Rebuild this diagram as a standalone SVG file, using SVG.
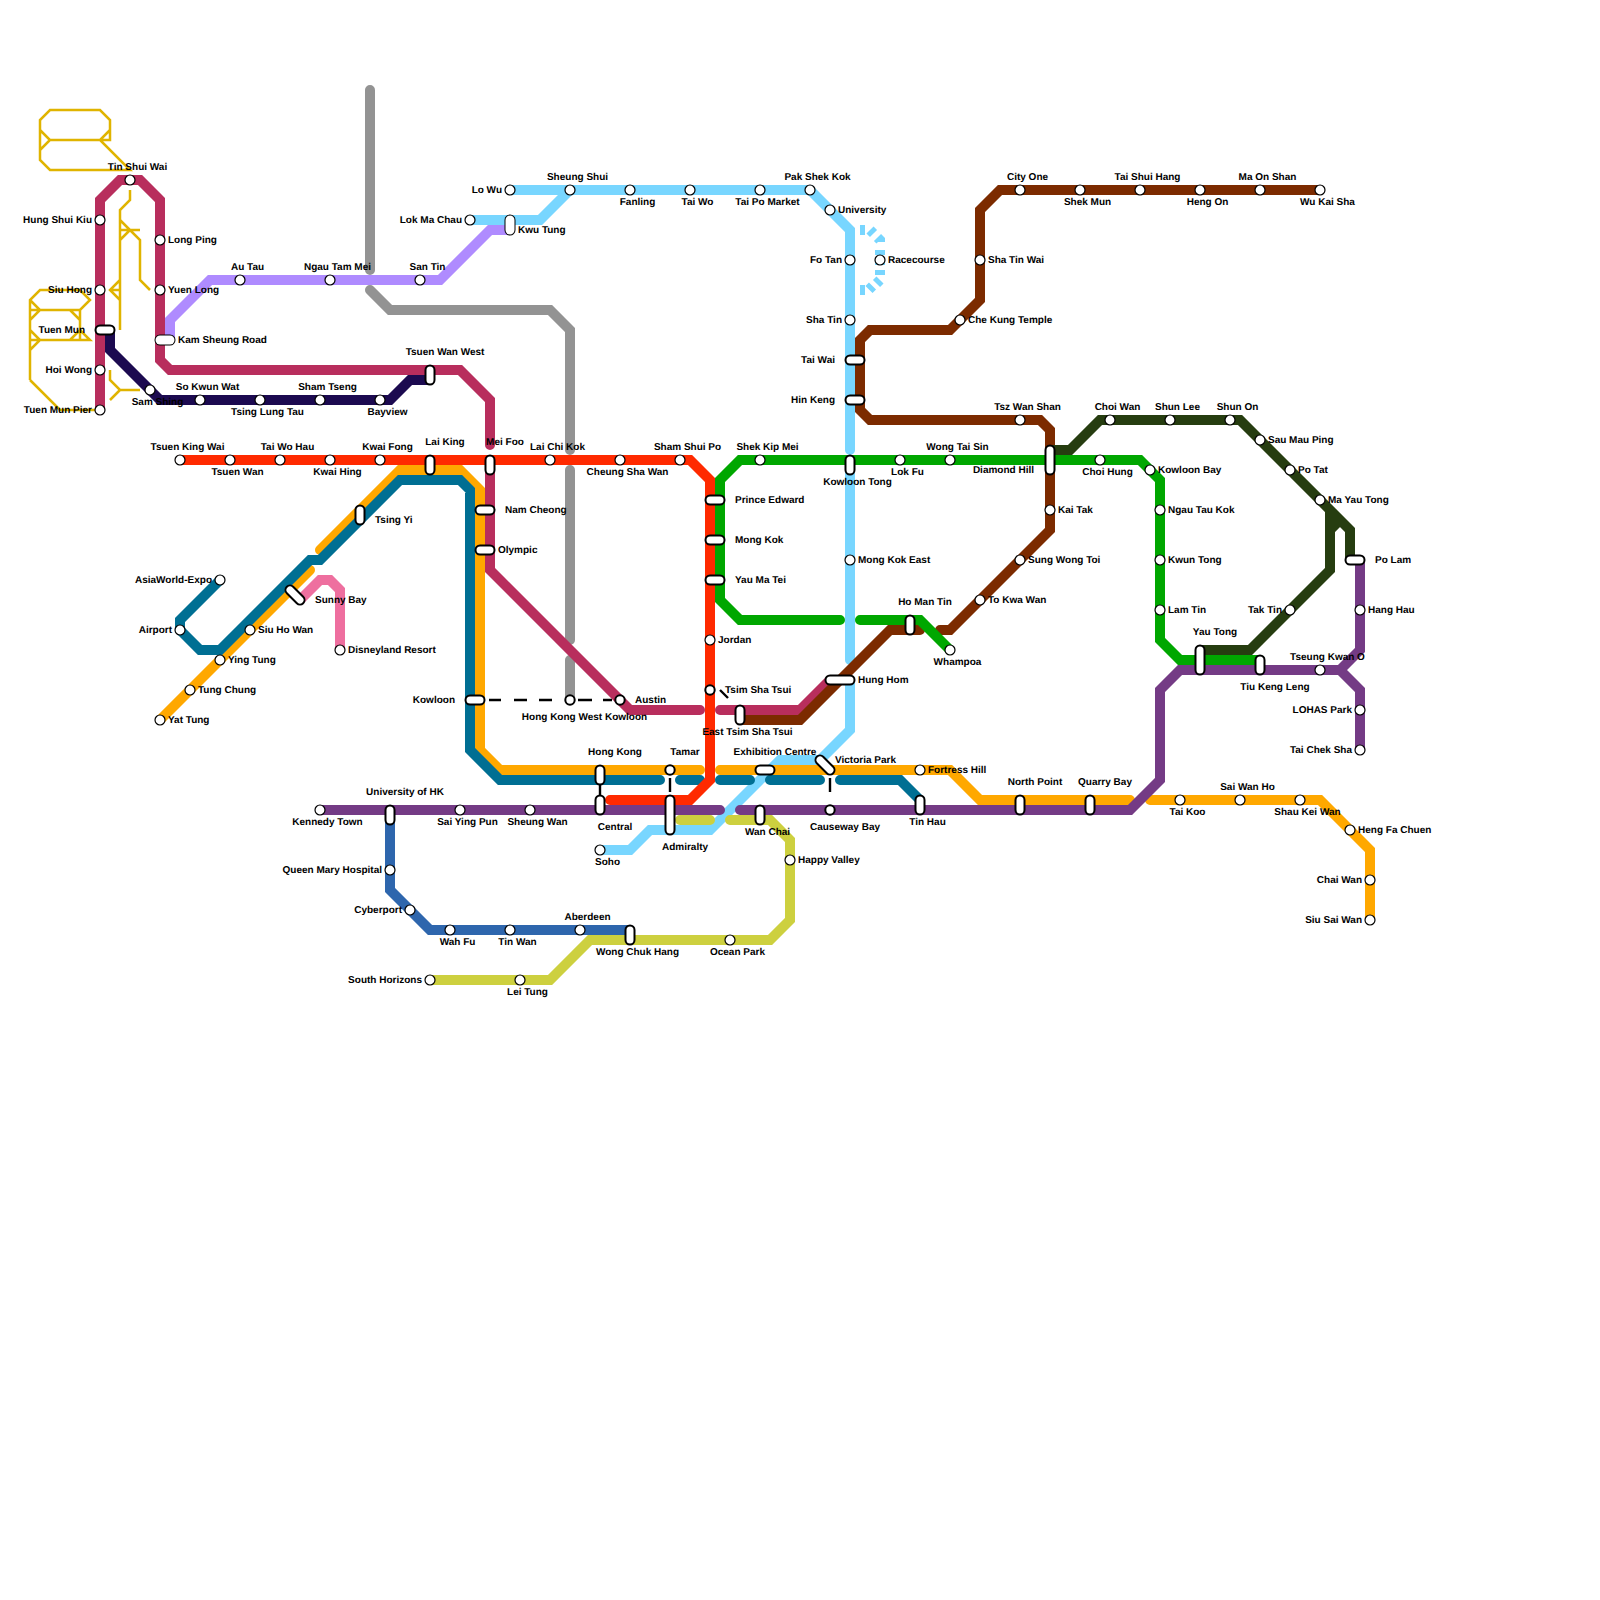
<svg xmlns="http://www.w3.org/2000/svg" width="1600" height="1600" viewBox="0 0 1600 1600">
<style>
.ln{fill:none;stroke-width:10;stroke-linecap:round;stroke-linejoin:miter}
.db{fill:none;stroke:#78D6FF;stroke-width:10;stroke-linecap:butt}
.y{fill:none;stroke:#E0B400;stroke-width:2.5}
.red{stroke:#FF2A00}.mag{stroke:#B82E5D}.org{stroke:#FFA800}.tea{stroke:#006F93}.nav{stroke:#1C0A50}.lil{stroke:#AF8BFF}.gry{stroke:#939393}.sky{stroke:#78D6FF}.brn{stroke:#7C2B00}.grn{stroke:#00A700}.dgr{stroke:#263D10}.pur{stroke:#743B85}.pnk{stroke:#EE6F9F}.blu{stroke:#2E66AD}.olv{stroke:#CDD03F}
.lk{fill:none;stroke:#000;stroke-width:2.4}
.st{fill:#fff;stroke:#000;stroke-width:1.2}
.sx{fill:#fff;stroke:#000;stroke-width:2}
.co{fill:none;stroke:#000;stroke-width:11;stroke-linecap:round}
.ci{fill:none;stroke:#fff;stroke-width:7;stroke-linecap:round}
.ct{fill:none;stroke:#fff;stroke-width:9;stroke-linecap:round}
text{font-family:"Liberation Sans",Arial,sans-serif;font-size:10px;font-weight:bold;fill:#000;text-rendering:geometricPrecision}
.l{text-anchor:end}.r{text-anchor:start}.m{text-anchor:middle}
</style>
<g id="connectors">
<g id="yellow-lines">
<path class="y" d="M100 140H50M40 130L50 140L40 150M110 130L100 140L130 170H50L40 160V120L50 110H100L110 120V140H100"/>
<path class="y" d="M130 190V200L120 210V330M120 220L140 240V280L150 290M120 230H140M120 240L130 230M120 280L110 290L120 300M110 290H120"/>
<path class="y" d="M30 380V300L40 290H80L90 300L80 310H30M30 300L40 310L30 320M70 310L80 320M80 310V340M30 340H90L80 330L70 340M30 330L40 340L30 350M30 380L60 410H100"/>
<path class="y" d="M110 370V380L120 390H140M120 390L110 400"/>
</g>
<path class="ln gry" d="M370 90V270M370 290L390 310H550L570 330V450M570 470V640M570 660V700"/>
<path class="ln sky" d="M470 220H540L570 190M510 190H810L850 230V450M850 470V660M850 680V730L820 760H780L710 830H650L630 850H600"/>
<path class="db" d="M860 230H865M870 230L873.5 233.5M877.5 237.5L880 240V242M880 250V255M880 260V265M880 270V275M880 280L876.5 283.5M872.5 286L869 289.5M860 290H865"/>
<path class="ln lil" d="M170 340V320L210 280H440L490 230H510"/>
<path class="ln mag" d="M100 410V200L120 180H140L160 200V360L170 370H460L490 400V445M490 470V570L630 710H700M720 710H800L828 682"/>
<path class="ln org" d="M160 720L310 570M320 550L400 470H460L480 490V750L500 770H700M720 770H950L980 800H1130M1150 800H1320L1370 850V920"/>
<path class="ln tea" d="M220 580L180 620V630L200 650H220L310 560H320L400 480H460L470 490V750L500 780H660M680 780H700M720 780H750M770 780H820M840 780H900L920 800"/>
<path class="ln pnk" d="M300 600L320 580H330L340 590V650"/>
<path class="ln nav" d="M110 330V350L160 400H390L410 380H430"/>
<path class="ln red" d="M180 460H690L710 480V780L690 800H610"/>
<path class="ln brn" d="M1320 190H1000L980 210V300L950 330H870L860 340V410L870 420H1040L1050 430V530L950 630H940M920 630H890L800 720H740"/>
<path class="ln dgr" d="M1050 450H1070L1100 420H1240L1350 530V560M1200 650H1250L1330 570V530L1340 520M1320 500L1330 510V540"/>
<path class="ln grn" d="M840 620H740L720 600V480L740 460H1140L1160 480V640L1180 660H1260M860 620H920L950 650"/>
<path class="ln pur" d="M320 810H720M740 810H1130L1160 780V690L1180 670H1340L1360 650V560M1340 670L1360 690V750"/>
<path class="ln blu" d="M390 810V890L430 930H630"/>
<path class="ln olv" d="M430 980H550L590 940H770L790 920V840L770 820H730M710 820H680"/>
<path class="lk" d="M489 700H501M514 700H527M539 700H552M578 700H592M603 700H612M600 785V795M670 778V792M830 778V792M720 690L728 698"/>
</g>
<g id="nodes">
<g id="tin-shui-wai"><circle class="st" cx="130" cy="180" r="5"/><text class="m" x="137.5" y="170">Tin Shui Wai</text></g>
<g id="hung-shui-kiu"><circle class="st" cx="100" cy="220" r="5"/><text class="l" x="92" y="223">Hung Shui Kiu</text></g>
<g id="long-ping"><circle class="st" cx="160" cy="240" r="5"/><text class="r" x="168" y="243">Long Ping</text></g>
<g id="siu-hong"><circle class="st" cx="100" cy="290" r="5"/><text class="l" x="92" y="293">Siu Hong</text></g>
<g id="yuen-long"><circle class="st" cx="160" cy="290" r="5"/><text class="r" x="168" y="293">Yuen Long</text></g>
<g id="tuen-mun"><path class="co" d="M100 330H110"/><path class="ci" d="M100 330H110"/><text class="l" x="85" y="333">Tuen Mun</text></g>
<g id="kam-sheung-road"><path class="co" d="M160 340H170"/><path class="ct" d="M160 340H170"/><text class="r" x="178" y="343">Kam Sheung Road</text></g>
<g id="hoi-wong"><circle class="st" cx="100" cy="370" r="5"/><text class="l" x="92" y="373">Hoi Wong</text></g>
<g id="tuen-mun-pier"><circle class="st" cx="100" cy="410" r="5"/><text class="l" x="92" y="413">Tuen Mun Pier</text></g>
<g id="sam-shing"><circle class="st" cx="150" cy="390" r="5"/><text class="m" x="157.5" y="405">Sam Shing</text></g>
<g id="so-kwun-wat"><circle class="st" cx="200" cy="400" r="5"/><text class="m" x="207.5" y="390">So Kwun Wat</text></g>
<g id="tsing-lung-tau"><circle class="st" cx="260" cy="400" r="5"/><text class="m" x="267.5" y="415">Tsing Lung Tau</text></g>
<g id="sham-tseng"><circle class="st" cx="320" cy="400" r="5"/><text class="m" x="327.5" y="390">Sham Tseng</text></g>
<g id="bayview"><circle class="st" cx="380" cy="400" r="5"/><text class="m" x="387.5" y="415">Bayview</text></g>
<g id="au-tau"><circle class="st" cx="240" cy="280" r="5"/><text class="m" x="247.5" y="270">Au Tau</text></g>
<g id="ngau-tam-mei"><circle class="st" cx="330" cy="280" r="5"/><text class="m" x="337.5" y="270">Ngau Tam Mei</text></g>
<g id="san-tin"><circle class="st" cx="420" cy="280" r="5"/><text class="m" x="427.5" y="270">San Tin</text></g>
<g id="tsuen-wan-west"><path class="co" d="M430 370V380"/><path class="ci" d="M430 370V380"/><text class="m" x="445" y="355">Tsuen Wan West</text></g>
<g id="tsuen-king-wai"><circle class="st" cx="180" cy="460" r="5"/><text class="m" x="187.5" y="450">Tsuen King Wai</text></g>
<g id="tsuen-wan"><circle class="st" cx="230" cy="460" r="5"/><text class="m" x="237.5" y="475">Tsuen Wan</text></g>
<g id="tai-wo-hau"><circle class="st" cx="280" cy="460" r="5"/><text class="m" x="287.5" y="450">Tai Wo Hau</text></g>
<g id="kwai-hing"><circle class="st" cx="330" cy="460" r="5"/><text class="m" x="337.5" y="475">Kwai Hing</text></g>
<g id="kwai-fong"><circle class="st" cx="380" cy="460" r="5"/><text class="m" x="387.5" y="450">Kwai Fong</text></g>
<g id="lai-king"><path class="co" d="M430 460V470"/><path class="ci" d="M430 460V470"/><text class="m" x="445" y="445">Lai King</text></g>
<g id="mei-foo"><path class="co" d="M490 460V470"/><path class="ci" d="M490 460V470"/><text class="m" x="505" y="445">Mei Foo</text></g>
<g id="lai-chi-kok"><circle class="st" cx="550" cy="460" r="5"/><text class="m" x="557.5" y="450">Lai Chi Kok</text></g>
<g id="cheung-sha-wan"><circle class="st" cx="620" cy="460" r="5"/><text class="m" x="627.5" y="475">Cheung Sha Wan</text></g>
<g id="sham-shui-po"><circle class="st" cx="680" cy="460" r="5"/><text class="m" x="687.5" y="450">Sham Shui Po</text></g>
<g id="shek-kip-mei"><circle class="st" cx="760" cy="460" r="5"/><text class="m" x="767.5" y="450">Shek Kip Mei</text></g>
<g id="kowloon-tong"><path class="co" d="M850 460V470"/><path class="ci" d="M850 460V470"/><text class="m" x="857.5" y="485">Kowloon Tong</text></g>
<g id="lok-fu"><circle class="st" cx="900" cy="460" r="5"/><text class="m" x="907.5" y="475">Lok Fu</text></g>
<g id="wong-tai-sin"><circle class="st" cx="950" cy="460" r="5"/><text class="m" x="957.5" y="450">Wong Tai Sin</text></g>
<g id="diamond-hill"><path class="co" d="M1050 450V470"/><path class="ci" d="M1050 450V470"/><text class="l" x="1034" y="473">Diamond Hill</text></g>
<g id="choi-hung"><circle class="st" cx="1100" cy="460" r="5"/><text class="m" x="1107.5" y="475">Choi Hung</text></g>
<g id="kowloon-bay"><circle class="st" cx="1150" cy="470" r="5"/><text class="r" x="1158" y="473">Kowloon Bay</text></g>
<g id="ngau-tau-kok"><circle class="st" cx="1160" cy="510" r="5"/><text class="r" x="1168" y="513">Ngau Tau Kok</text></g>
<g id="kwun-tong"><circle class="st" cx="1160" cy="560" r="5"/><text class="r" x="1168" y="563">Kwun Tong</text></g>
<g id="lam-tin"><circle class="st" cx="1160" cy="610" r="5"/><text class="r" x="1168" y="613">Lam Tin</text></g>
<g id="kai-tak"><circle class="st" cx="1050" cy="510" r="5"/><text class="r" x="1058" y="513">Kai Tak</text></g>
<g id="sung-wong-toi"><circle class="st" cx="1020" cy="560" r="5"/><text class="r" x="1028" y="563">Sung Wong Toi</text></g>
<g id="to-kwa-wan"><circle class="st" cx="980" cy="600" r="5"/><text class="r" x="988" y="603">To Kwa Wan</text></g>
<g id="whampoa"><circle class="st" cx="950" cy="650" r="5"/><text class="m" x="957.5" y="665">Whampoa</text></g>
<g id="ho-man-tin"><path class="co" d="M910 620V630"/><path class="ci" d="M910 620V630"/><text class="m" x="925" y="605">Ho Man Tin</text></g>
<g id="tsz-wan-shan"><circle class="st" cx="1020" cy="420" r="5"/><text class="m" x="1027.5" y="410">Tsz Wan Shan</text></g>
<g id="choi-wan"><circle class="st" cx="1110" cy="420" r="5"/><text class="m" x="1117.5" y="410">Choi Wan</text></g>
<g id="shun-lee"><circle class="st" cx="1170" cy="420" r="5"/><text class="m" x="1177.5" y="410">Shun Lee</text></g>
<g id="shun-on"><circle class="st" cx="1230" cy="420" r="5"/><text class="m" x="1237.5" y="410">Shun On</text></g>
<g id="sau-mau-ping"><circle class="st" cx="1260" cy="440" r="5"/><text class="r" x="1268" y="443">Sau Mau Ping</text></g>
<g id="po-tat"><circle class="st" cx="1290" cy="470" r="5"/><text class="r" x="1298" y="473">Po Tat</text></g>
<g id="ma-yau-tong"><circle class="st" cx="1320" cy="500" r="5"/><text class="r" x="1328" y="503">Ma Yau Tong</text></g>
<g id="po-lam"><path class="co" d="M1350 560H1360"/><path class="ci" d="M1350 560H1360"/><text class="r" x="1375" y="563">Po Lam</text></g>
<g id="hang-hau"><circle class="st" cx="1360" cy="610" r="5"/><text class="r" x="1368" y="613">Hang Hau</text></g>
<g id="tak-tin"><circle class="st" cx="1290" cy="610" r="5"/><text class="l" x="1282" y="613">Tak Tin</text></g>
<g id="yau-tong"><path class="co" d="M1200 650V670"/><path class="ci" d="M1200 650V670"/><text class="m" x="1215" y="635">Yau Tong</text></g>
<g id="tiu-keng-leng"><path class="co" d="M1260 660V670"/><path class="ci" d="M1260 660V670"/><text class="m" x="1275" y="690">Tiu Keng Leng</text></g>
<g id="tseung-kwan-o"><circle class="st" cx="1320" cy="670" r="5"/><text class="m" x="1327.5" y="660">Tseung Kwan O</text></g>
<g id="lohas-park"><circle class="st" cx="1360" cy="710" r="5"/><text class="l" x="1352" y="713">LOHAS Park</text></g>
<g id="tai-chek-sha"><circle class="st" cx="1360" cy="750" r="5"/><text class="l" x="1352" y="753">Tai Chek Sha</text></g>
<g id="tai-koo"><circle class="st" cx="1180" cy="800" r="5"/><text class="m" x="1187.5" y="815">Tai Koo</text></g>
<g id="sai-wan-ho"><circle class="st" cx="1240" cy="800" r="5"/><text class="m" x="1247.5" y="790">Sai Wan Ho</text></g>
<g id="shau-kei-wan"><circle class="st" cx="1300" cy="800" r="5"/><text class="m" x="1307.5" y="815">Shau Kei Wan</text></g>
<g id="quarry-bay"><path class="co" d="M1090 800V810"/><path class="ci" d="M1090 800V810"/><text class="m" x="1105" y="785">Quarry Bay</text></g>
<g id="north-point"><path class="co" d="M1020 800V810"/><path class="ci" d="M1020 800V810"/><text class="m" x="1035" y="785">North Point</text></g>
<g id="heng-fa-chuen"><circle class="st" cx="1350" cy="830" r="5"/><text class="r" x="1358" y="833">Heng Fa Chuen</text></g>
<g id="chai-wan"><circle class="st" cx="1370" cy="880" r="5"/><text class="l" x="1362" y="883">Chai Wan</text></g>
<g id="siu-sai-wan"><circle class="st" cx="1370" cy="920" r="5"/><text class="l" x="1362" y="923">Siu Sai Wan</text></g>
<g id="nam-cheong"><path class="co" d="M480 510H490"/><path class="ci" d="M480 510H490"/><text class="r" x="505" y="513">Nam Cheong</text></g>
<g id="olympic"><path class="co" d="M480 550H490"/><path class="ci" d="M480 550H490"/><text class="r" x="498" y="553">Olympic</text></g>
<g id="tsing-yi"><path class="co" d="M360 510V520"/><path class="ci" d="M360 510V520"/><text class="r" x="375" y="523">Tsing Yi</text></g>
<g id="sunny-bay"><path class="co" d="M290 590L300 600"/><path class="ci" d="M290 590L300 600"/><text class="r" x="315" y="603">Sunny Bay</text></g>
<g id="siu-ho-wan"><circle class="st" cx="250" cy="630" r="5"/><text class="r" x="258" y="633">Siu Ho Wan</text></g>
<g id="disneyland-resort"><circle class="st" cx="340" cy="650" r="5"/><text class="r" x="348" y="653">Disneyland Resort</text></g>
<g id="ying-tung"><circle class="st" cx="220" cy="660" r="5"/><text class="r" x="228" y="663">Ying Tung</text></g>
<g id="tung-chung"><circle class="st" cx="190" cy="690" r="5"/><text class="r" x="198" y="693">Tung Chung</text></g>
<g id="yat-tung"><circle class="st" cx="160" cy="720" r="5"/><text class="r" x="168" y="723">Yat Tung</text></g>
<g id="asiaworld-expo"><circle class="st" cx="220" cy="580" r="5"/><text class="l" x="212" y="583">AsiaWorld-Expo</text></g>
<g id="airport"><circle class="st" cx="180" cy="630" r="5"/><text class="l" x="172" y="633">Airport</text></g>
<g id="kowloon"><path class="co" d="M470 700H480"/><path class="ci" d="M470 700H480"/><text class="l" x="455" y="703">Kowloon</text></g>
<g id="university-of-hk"><path class="co" d="M390 810V820"/><path class="ci" d="M390 810V820"/><text class="m" x="405" y="795">University of HK</text></g>
<g id="kennedy-town"><circle class="st" cx="320" cy="810" r="5"/><text class="m" x="327.5" y="825">Kennedy Town</text></g>
<g id="sai-ying-pun"><circle class="st" cx="460" cy="810" r="5"/><text class="m" x="467.5" y="825">Sai Ying Pun</text></g>
<g id="sheung-wan"><circle class="st" cx="530" cy="810" r="5"/><text class="m" x="537.5" y="825">Sheung Wan</text></g>
<g id="prince-edward"><path class="co" d="M710 500H720"/><path class="ci" d="M710 500H720"/><text class="r" x="735" y="503">Prince Edward</text></g>
<g id="mong-kok"><path class="co" d="M710 540H720"/><path class="ci" d="M710 540H720"/><text class="r" x="735" y="543">Mong Kok</text></g>
<g id="yau-ma-tei"><path class="co" d="M710 580H720"/><path class="ci" d="M710 580H720"/><text class="r" x="735" y="583">Yau Ma Tei</text></g>
<g id="jordan"><circle class="st" cx="710" cy="640" r="5"/><text class="r" x="718" y="643">Jordan</text></g>
<g id="tsim-sha-tsui"><circle class="sx" cx="710" cy="690" r="4.7"/><text class="r" x="725" y="693">Tsim Sha Tsui</text></g>
<g id="mong-kok-east"><circle class="st" cx="850" cy="560" r="5"/><text class="r" x="858" y="563">Mong Kok East</text></g>
<g id="hung-hom"><path class="co" d="M830 680H850"/><path class="ci" d="M830 680H850"/><text class="r" x="858" y="683">Hung Hom</text></g>
<g id="austin"><circle class="sx" cx="620" cy="700" r="4.7"/><text class="r" x="635" y="703">Austin</text></g>
<g id="hong-kong-west-kowloon"><circle class="sx" cx="570" cy="700" r="4.7"/><text class="m" x="584.5" y="720">Hong Kong West Kowloon</text></g>
<g id="east-tsim-sha-tsui"><path class="co" d="M740 710V720"/><path class="ci" d="M740 710V720"/><text class="m" x="747.5" y="735">East Tsim Sha Tsui</text></g>
<g id="hong-kong"><path class="co" d="M600 770V780"/><path class="ci" d="M600 770V780"/><text class="m" x="615" y="755">Hong Kong</text></g>
<g id="tamar"><circle class="sx" cx="670" cy="770" r="4.7"/><text class="m" x="685" y="755">Tamar</text></g>
<g id="exhibition-centre"><path class="co" d="M760 770H770"/><path class="ci" d="M760 770H770"/><text class="m" x="775" y="755">Exhibition Centre</text></g>
<g id="victoria-park"><path class="co" d="M820 760L830 770"/><path class="ci" d="M820 760L830 770"/><text class="r" x="835" y="763">Victoria Park</text></g>
<g id="fortress-hill"><circle class="st" cx="920" cy="770" r="5"/><text class="r" x="928" y="773">Fortress Hill</text></g>
<g id="central"><path class="co" d="M600 800V810"/><path class="ci" d="M600 800V810"/><text class="m" x="615" y="830">Central</text></g>
<g id="admiralty"><path class="co" d="M670 800V830"/><path class="ci" d="M670 800V830"/><text class="m" x="685" y="850">Admiralty</text></g>
<g id="wan-chai"><path class="co" d="M760 810V820"/><path class="ci" d="M760 810V820"/><text class="m" x="767.5" y="835">Wan Chai</text></g>
<g id="causeway-bay"><circle class="sx" cx="830" cy="810" r="4.7"/><text class="m" x="845" y="830">Causeway Bay</text></g>
<g id="tin-hau"><path class="co" d="M920 800V810"/><path class="ci" d="M920 800V810"/><text class="m" x="927.5" y="825">Tin Hau</text></g>
<g id="happy-valley"><circle class="st" cx="790" cy="860" r="5"/><text class="r" x="798" y="863">Happy Valley</text></g>
<g id="soho"><circle class="st" cx="600" cy="850" r="5"/><text class="m" x="607.5" y="865">Soho</text></g>
<g id="aberdeen"><circle class="st" cx="580" cy="930" r="5"/><text class="m" x="587.5" y="920">Aberdeen</text></g>
<g id="wong-chuk-hang"><path class="co" d="M630 930V940"/><path class="ci" d="M630 930V940"/><text class="m" x="637.5" y="955">Wong Chuk Hang</text></g>
<g id="ocean-park"><circle class="st" cx="730" cy="940" r="5"/><text class="m" x="737.5" y="955">Ocean Park</text></g>
<g id="queen-mary-hospital"><circle class="st" cx="390" cy="870" r="5"/><text class="l" x="382" y="873">Queen Mary Hospital</text></g>
<g id="cyberport"><circle class="st" cx="410" cy="910" r="5"/><text class="l" x="402" y="913">Cyberport</text></g>
<g id="wah-fu"><circle class="st" cx="450" cy="930" r="5"/><text class="m" x="457.5" y="945">Wah Fu</text></g>
<g id="tin-wan"><circle class="st" cx="510" cy="930" r="5"/><text class="m" x="517.5" y="945">Tin Wan</text></g>
<g id="south-horizons"><circle class="st" cx="430" cy="980" r="5"/><text class="l" x="422" y="983">South Horizons</text></g>
<g id="lei-tung"><circle class="st" cx="520" cy="980" r="5"/><text class="m" x="527.5" y="995">Lei Tung</text></g>
<g id="lo-wu"><circle class="st" cx="510" cy="190" r="5"/><text class="l" x="502" y="193">Lo Wu</text></g>
<g id="lok-ma-chau"><circle class="st" cx="470" cy="220" r="5"/><text class="l" x="462" y="223">Lok Ma Chau</text></g>
<g id="kwu-tung"><path class="co" d="M510 220V230"/><path class="ct" d="M510 220V230"/><text class="r" x="518" y="233">Kwu Tung</text></g>
<g id="sheung-shui"><circle class="st" cx="570" cy="190" r="5"/><text class="m" x="577.5" y="180">Sheung Shui</text></g>
<g id="fanling"><circle class="st" cx="630" cy="190" r="5"/><text class="m" x="637.5" y="205">Fanling</text></g>
<g id="tai-wo"><circle class="st" cx="690" cy="190" r="5"/><text class="m" x="697.5" y="205">Tai Wo</text></g>
<g id="tai-po-market"><circle class="st" cx="760" cy="190" r="5"/><text class="m" x="767.5" y="205">Tai Po Market</text></g>
<g id="pak-shek-kok"><circle class="st" cx="810" cy="190" r="5"/><text class="m" x="817.5" y="180">Pak Shek Kok</text></g>
<g id="university"><circle class="st" cx="830" cy="210" r="5"/><text class="r" x="838" y="213">University</text></g>
<g id="fo-tan"><circle class="st" cx="850" cy="260" r="5"/><text class="l" x="842" y="263">Fo Tan</text></g>
<g id="racecourse"><circle class="st" cx="880" cy="260" r="5"/><text class="r" x="888" y="263">Racecourse</text></g>
<g id="sha-tin"><circle class="st" cx="850" cy="320" r="5"/><text class="l" x="842" y="323">Sha Tin</text></g>
<g id="tai-wai"><path class="co" d="M850 360H860"/><path class="ci" d="M850 360H860"/><text class="l" x="835" y="363">Tai Wai</text></g>
<g id="hin-keng"><path class="co" d="M850 400H860"/><path class="ci" d="M850 400H860"/><text class="l" x="835" y="403">Hin Keng</text></g>
<g id="che-kung-temple"><circle class="st" cx="960" cy="320" r="5"/><text class="r" x="968" y="323">Che Kung Temple</text></g>
<g id="sha-tin-wai"><circle class="st" cx="980" cy="260" r="5"/><text class="r" x="988" y="263">Sha Tin Wai</text></g>
<g id="city-one"><circle class="st" cx="1020" cy="190" r="5"/><text class="m" x="1027.5" y="180">City One</text></g>
<g id="shek-mun"><circle class="st" cx="1080" cy="190" r="5"/><text class="m" x="1087.5" y="205">Shek Mun</text></g>
<g id="tai-shui-hang"><circle class="st" cx="1140" cy="190" r="5"/><text class="m" x="1147.5" y="180">Tai Shui Hang</text></g>
<g id="heng-on"><circle class="st" cx="1200" cy="190" r="5"/><text class="m" x="1207.5" y="205">Heng On</text></g>
<g id="ma-on-shan"><circle class="st" cx="1260" cy="190" r="5"/><text class="m" x="1267.5" y="180">Ma On Shan</text></g>
<g id="wu-kai-sha"><circle class="st" cx="1320" cy="190" r="5"/><text class="m" x="1327.5" y="205">Wu Kai Sha</text></g>
</g>
</svg>
